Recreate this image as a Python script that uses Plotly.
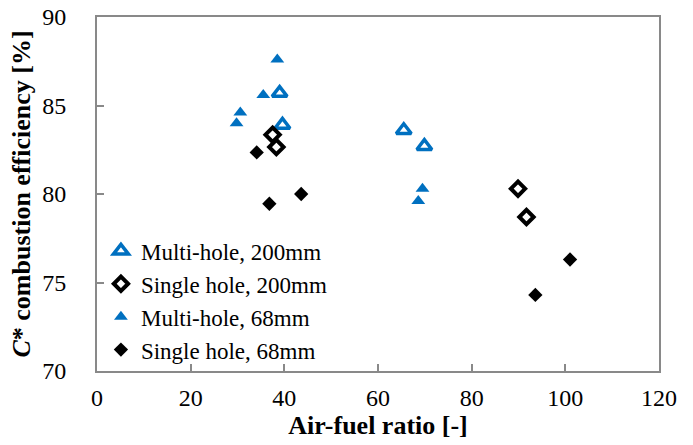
import plotly.graph_objects as go

# Data
multi200_x = [39.0, 39.6, 65.5, 69.9]
multi200_y = [85.7, 83.9, 83.6, 82.7]

single200_x = [37.5, 38.3, 89.9, 91.7]
single200_y = [83.35, 82.65, 80.3, 78.7]

multi68_x = [38.5, 35.5, 30.6, 29.8, 69.5, 68.6]
multi68_y = [87.6, 85.6, 84.6, 84.0, 80.3, 79.6]

single68_x = [34.1, 36.8, 43.6, 101.0, 93.6]
single68_y = [82.35, 79.45, 80.0, 76.3, 74.3]

x_ticks = [0, 20, 40, 60, 80, 100, 120]
y_ticks = [70, 75, 80, 85, 90]

BLUE = "#0070C0"
BLACK = "#000000"
AXIS = "#898989"
FONT = "Liberation Serif, Times New Roman, serif"

fig = go.Figure()
fig.add_trace(go.Scatter(
    x=multi200_x, y=multi200_y, mode="markers", name="Multi-hole, 200mm",
    marker=dict(symbol="triangle-up-open", size=13, color=BLUE,
                line=dict(color=BLUE, width=3.5)),
))
fig.add_trace(go.Scatter(
    x=single200_x, y=single200_y, mode="markers", name="Single hole, 200mm",
    marker=dict(symbol="diamond-open", size=11, color=BLACK,
                line=dict(color=BLACK, width=4)),
))
fig.add_trace(go.Scatter(
    x=multi68_x, y=multi68_y, mode="markers", name="Multi-hole, 68mm",
    marker=dict(symbol="triangle-up", size=12, color=BLUE, line=dict(width=0)),
))
fig.add_trace(go.Scatter(
    x=single68_x, y=single68_y, mode="markers", name="Single hole, 68mm",
    marker=dict(symbol="diamond", size=11, color=BLACK, line=dict(width=0)),
))

fig.update_layout(
    width=693, height=445,
    margin=dict(l=97, r=33.5, t=16.5, b=73.5, autoexpand=False),
    paper_bgcolor="white", plot_bgcolor="white",
    font=dict(family=FONT, size=24, color="black"),
    showlegend=True,
    legend=dict(x=0.007, y=0.40, xanchor="left", yanchor="top",
                bgcolor="rgba(0,0,0,0)", font=dict(family=FONT, size=23, color="black"),
                tracegroupgap=0, itemwidth=30),
    xaxis=dict(
        range=[0, 120], tickvals=x_ticks, ticktext=[str(v) for v in x_ticks],
        showgrid=False, zeroline=False, automargin=False,
        showline=True, linecolor=AXIS, linewidth=2, mirror=True,
        ticks="inside", ticklen=7, tickwidth=1.5, tickcolor=AXIS,
        tickfont=dict(family=FONT, size=24, color="black"),
        ticklabelstandoff=4,
        title=dict(text="Air-fuel ratio [-]", standoff=0,
                   font=dict(family=FONT, size=26, color="black", weight="bold")),
    ),
    yaxis=dict(
        range=[70, 90], tickvals=y_ticks, ticktext=[str(v) for v in y_ticks],
        showgrid=False, zeroline=False, automargin=False,
        showline=True, linecolor=AXIS, linewidth=2, mirror=True,
        ticks="inside", ticklen=7, tickwidth=1.5, tickcolor=AXIS,
        tickfont=dict(family=FONT, size=24, color="black"),
        ticklabelstandoff=24,
        title=dict(text="<i>C</i>* combustion efficiency [%]", standoff=4,
                   font=dict(family=FONT, size=26, color="black", weight="bold")),
    ),
)

fig.write_html("out.html", config={"displayModeBar": False},
               post_script="document.body.style.margin='0';")
